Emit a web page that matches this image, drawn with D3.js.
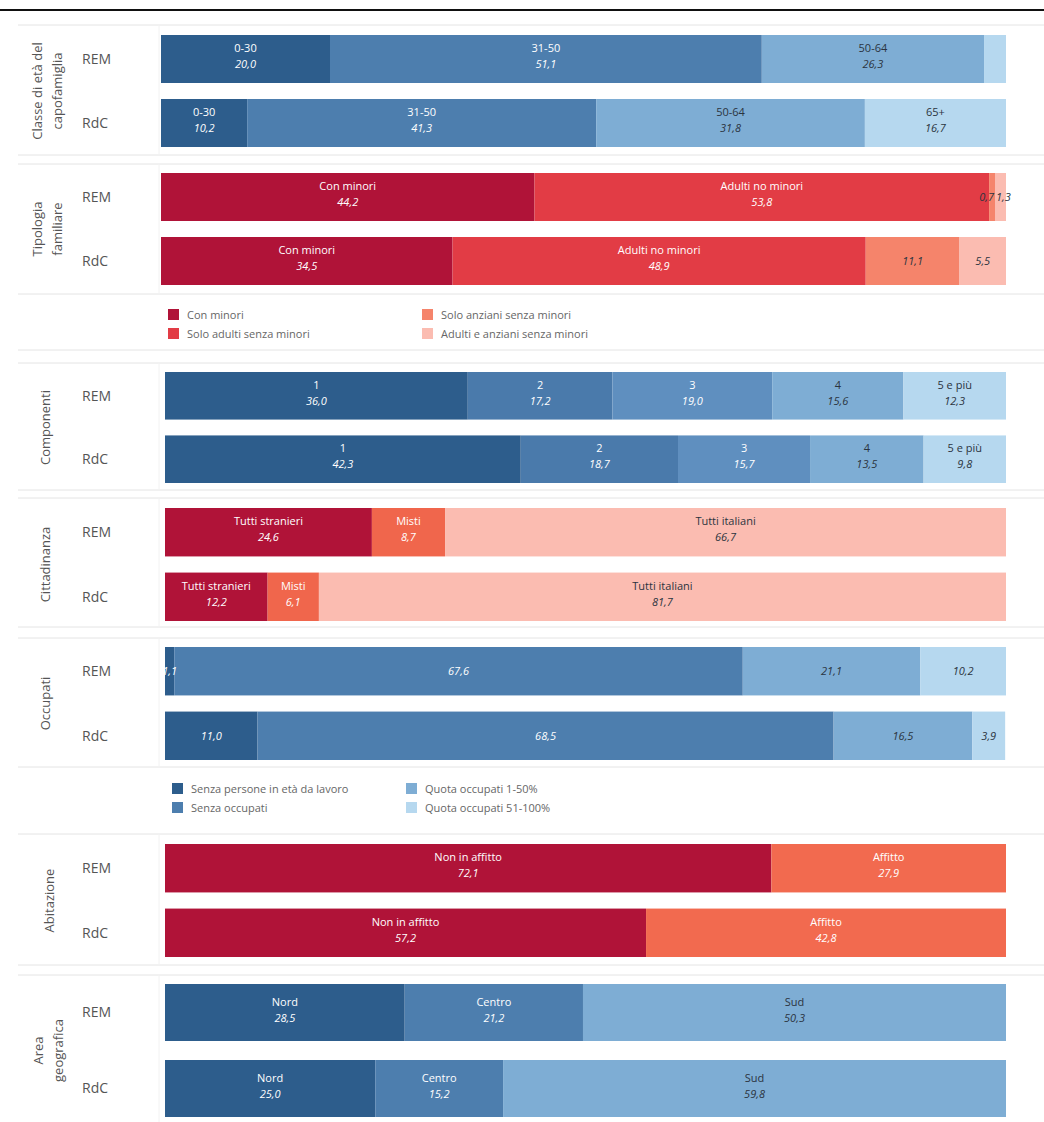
<!DOCTYPE html>
<html>
<head>
<meta charset="utf-8">
<script src="https://cdn.jsdelivr.net/npm/d3@7"></script>
<style>
  html, body { margin: 0; padding: 0; background: #fff; }
  svg { display: block; font-family: "Open Sans", "Noto Sans", sans-serif; }
</style>
</head>
<body>
<svg id="chart" width="1044" height="1122"></svg>
<script>
// ---------------- DATA ----------------
const groups = ["REM", "RdC"];

const ageCats = ["0-30", "31-50", "50-64", "65+"];
const ageREM = [20.0, 51.1, 26.3, 2.6];
const ageRdC = [10.2, 41.3, 31.8, 16.7];

const famCats = ["Con minori", "Solo adulti senza minori", "Solo anziani senza minori", "Adulti e anziani senza minori"];
const famShort = ["Con minori", "Adulti no minori", "", ""];
const famREM = [44.2, 53.8, 0.7, 1.3];
const famRdC = [34.5, 48.9, 11.1, 5.5];

const compCats = ["1", "2", "3", "4", "5 e più"];
const compREM = [36.0, 17.2, 19.0, 15.6, 12.3];
const compRdC = [42.3, 18.7, 15.7, 13.5, 9.8];

const citCats = ["Tutti stranieri", "Misti", "Tutti italiani"];
const citREM = [24.6, 8.7, 66.7];
const citRdC = [12.2, 6.1, 81.7];

const occCats = ["Senza persone in età da lavoro", "Senza occupati", "Quota occupati 1-50%", "Quota occupati 51-100%"];
const occREM = [1.1, 67.6, 21.1, 10.2];
const occRdC = [11.0, 68.5, 16.5, 3.9];

const abiCats = ["Non in affitto", "Affitto"];
const abiREM = [72.1, 27.9];
const abiRdC = [57.2, 42.8];

const areaCats = ["Nord", "Centro", "Sud"];
const areaREM = [28.5, 21.2, 50.3];
const areaRdC = [25.0, 15.2, 59.8];

// ---------------- STYLE ----------------
const blues4 = ["#2d5d8c", "#4d7eae", "#7eadd4", "#b6d8ef"];
const blues5 = ["#2d5d8c", "#4a7aab", "#5f8fbf", "#7eadd4", "#b6d8ef"];
const blues3 = ["#2d5d8c", "#4d7eae", "#7eadd4"];
const famColors = ["#b01338", "#e23c45", "#f5846b", "#fbbcb1"];
const citColors = ["#b01338", "#f0664c", "#fbbcb1"];
const abiColors = ["#b01338", "#f26a4f"];

const svg = d3.select("#chart");
const xEnd = 1006;

function fmt(v) { return d3.format(".1f")(v).replace(".", ","); }

function textColor(c) { return d3.hsl(c).l > 0.64 ? "#2b3440" : "#ffffff"; }

function hline(y, x1 = 18, x2 = 1044, color = "#e4e4e4") {
  svg.append("line").attr("x1", x1).attr("x2", x2).attr("y1", y).attr("y2", y)
    .attr("stroke", color).attr("stroke-width", 1);
}

// top rule
svg.append("line").attr("x1", 0).attr("x2", 1044).attr("y1", 10).attr("y2", 10)
  .attr("stroke", "#111").attr("stroke-width", 2);

const sections = [
  { title: ["Classe di età del", "capofamiglia"], cats: ageCats, names: ageCats, rem: ageREM, rdc: ageRdC,
    colors: blues4, top: 25, bottom: 155, y0: 35, y1: 147, x0: 161, showNames: true, minLabel: 3, titleX: 37 },
  { title: ["Tipologia", "familiare"], cats: famCats, names: famShort, rem: famREM, rdc: famRdC,
    colors: famColors, top: 164, bottom: 294, y0: 173, y1: 285, x0: 161, showNames: true, minLabel: 0, titleX: 37 },
  { title: ["Componenti"], cats: compCats, names: compCats, rem: compREM, rdc: compRdC,
    colors: blues5, top: 363, bottom: 490, y0: 372, y1: 483, x0: 165, showNames: true, minLabel: 0, titleX: 45 },
  { title: ["Cittadinanza"], cats: citCats, names: citCats, rem: citREM, rdc: citRdC,
    colors: citColors, top: 498, bottom: 627, y0: 508, y1: 621, x0: 165, showNames: true, minLabel: 0, titleX: 45 },
  { title: ["Occupati"], cats: occCats, names: occCats, rem: occREM, rdc: occRdC,
    colors: blues4, top: 638, bottom: 767, y0: 647, y1: 760, x0: 165, showNames: false, minLabel: 0, titleX: 45 },
  { title: ["Abitazione"], cats: abiCats, names: abiCats, rem: abiREM, rdc: abiRdC,
    colors: abiColors, top: 834, bottom: 965, y0: 844, y1: 957, x0: 165, showNames: true, minLabel: 0, titleX: 49 },
  { title: ["Area", "geografica"], cats: areaCats, names: areaCats, rem: areaREM, rdc: areaRdC,
    colors: blues3, top: 975, bottom: 1122, y0: 984, y1: 1117, x0: 165, showNames: true, minLabel: 0, titleX: 38 }
];

sections.forEach(s => {
  hline(s.top);
  if (s.bottom < 1122) hline(s.bottom);
  svg.append("line").attr("x1", 159).attr("x2", 159).attr("y1", s.top).attr("y2", Math.min(s.bottom, 1122))
    .attr("stroke", "#f2f2f2");

  const x = d3.scaleLinear().domain([0, 100]).range([s.x0, xEnd]);
  const y = d3.scaleBand().domain(groups).range([s.y0, s.y1]).paddingInner(0.25);

  const cy = (s.y0 + s.y1) / 2;
  s.title.forEach((t, i) => {
    const tx = s.titleX + i * 20;
    svg.append("text")
      .attr("transform", `translate(${tx},${cy}) rotate(-90)`)
      .attr("text-anchor", "middle").attr("dy", "0.35em")
      .attr("font-size", 13).attr("fill", "#555").text(t);
  });

  groups.forEach(g => {
    svg.append("text").attr("x", 82).attr("y", y(g) + y.bandwidth() / 2).attr("dy", "0.35em")
      .attr("font-size", 14).attr("fill", "#555").text(g);
  });

  const rows = [{ g: "REM", vals: s.rem }, { g: "RdC", vals: s.rdc }];
  rows.forEach(r => {
    let cum = 0;
    const segs = r.vals.map((v, i) => { const d = { i, v, start: cum, end: cum + v }; cum += v; return d; });
    const gEl = svg.append("g");
    gEl.selectAll("rect").data(segs).join("rect")
      .attr("x", d => x(d.start)).attr("y", y(r.g))
      .attr("width", d => Math.max(0, x(Math.min(d.end, 100)) - x(d.start)))
      .attr("height", y.bandwidth())
      .attr("fill", d => s.colors[d.i]);

    const mid = y(r.g) + y.bandwidth() / 2;
    const lab = segs.filter(d => d.v >= s.minLabel);
    lab.forEach((d, k) => {
      const x1 = x(d.start), x2 = x(Math.min(d.end, 100));
      let cx = (x1 + x2) / 2;
      let anchor = "middle";
      // consecutive tiny segments: push labels apart so they do not collide
      const prev = segs[d.i - 1], next = segs[d.i + 1];
      const tiny = v => v !== undefined && (x(v.end) - x(v.start)) < 14;
      if (tiny(d) && tiny(next)) { anchor = "end"; cx = x2 - 1; }
      else if (tiny(d) && tiny(prev)) { anchor = "start"; cx = x1 + 1; }
      const tc = textColor(s.colors[d.i]);
      const name = s.showNames ? s.names[d.i] : "";
      if (name) {
        svg.append("text").attr("x", cx).attr("y", mid - 7).attr("text-anchor", anchor)
          .attr("font-size", 11).attr("fill", tc).text(name);
        svg.append("text").attr("x", cx).attr("y", mid + 9).attr("text-anchor", anchor)
          .attr("font-size", 11).attr("font-style", "italic").attr("fill", tc).text(fmt(d.v));
      } else {
        svg.append("text").attr("x", cx).attr("y", mid + 4).attr("text-anchor", anchor)
          .attr("font-size", 11).attr("font-style", "italic").attr("fill", tc).text(fmt(d.v));
      }
    });
  });
});

// ---------------- LEGENDS ----------------
function legend(cats, colors, cols, rowsY) {
  cats.forEach((c, i) => {
    const col = Math.floor(i / 2), row = i % 2;
    const lx = cols[col], ly = rowsY[row];
    svg.append("rect").attr("x", lx).attr("y", ly - 6).attr("width", 11).attr("height", 11).attr("fill", colors[i]);
    svg.append("text").attr("x", lx + 19).attr("y", ly).attr("dy", "0.35em")
      .attr("font-size", 11).attr("fill", "#666").text(c);
  });
}
legend(famCats, famColors, [168, 422], [315, 334]);
hline(350);
legend(occCats, blues4, [172, 406], [789, 808]);
</script>
</body>
</html>
